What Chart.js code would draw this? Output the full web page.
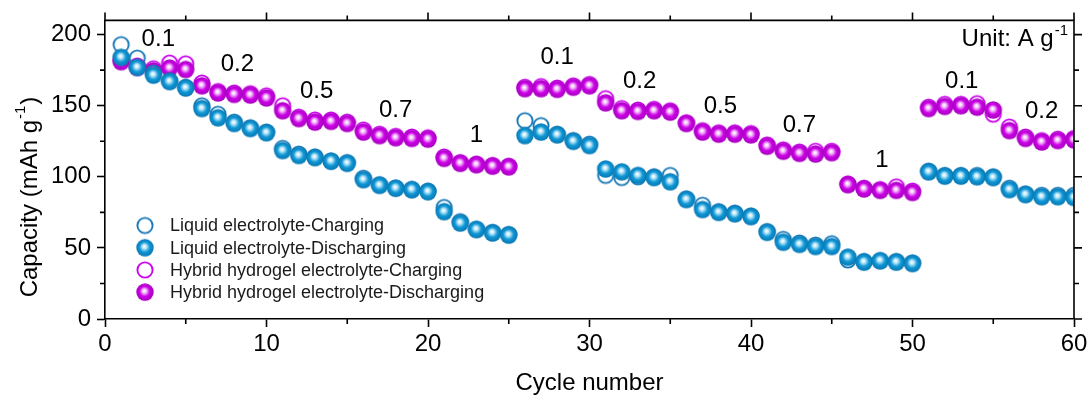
<!DOCTYPE html>
<html>
<head>
<meta charset="utf-8">
<script src="https://cdn.jsdelivr.net/npm/chart.js@4.4.1/dist/chart.umd.min.js"></script>
<style>
  html, body { margin: 0; padding: 0; background: #fff; }
  canvas { display: block; }
</style>
</head>
<body>
<canvas id="rateChart" width="1091" height="398"></canvas>
<script>
const cycles = Array.from({ length: 60 }, (_, i) => i + 1);

const liquidCharge = [
  193, 183.5, 173, 167.5, 163, 150, 144, 138.5, 134.5, 131.5,
  120, 116, 114, 111, 110, 99, 94.5, 92, 91, 90,
  78.5, 68.5, 63, 61, 59.5, 139.5, 136, 130, 125.5, 123,
  101, 99.5, 100, 100, 101, 84.5, 80, 75.5, 74.5, 72.5,
  61.5, 56, 53.5, 52, 53, 41.5, 40.5, 41, 40.5, 39.5,
  104, 101, 101, 101, 100, 92, 88, 87, 87, 87
];
const liquidDischarge = [
  184, 177, 171.5, 167, 162.5, 148, 141.5, 137.5, 134, 131,
  118.5, 115, 113.5, 111, 109.5, 98, 94, 92, 91, 89.5,
  75.5, 67.5, 63, 60.5, 59, 129, 131.5, 129.5, 125, 122,
  105.5, 103.5, 101, 99.5, 96.5, 84, 77, 75, 74, 72,
  61, 54, 52.5, 51, 51, 43.5, 40, 41, 40, 39,
  103.5, 100.5, 100.5, 100, 99.5, 91, 87.5, 86, 86, 85.5
];
const hybridCharge = [
  182, 178, 176, 180, 179.5, 166, 160, 159, 158.5, 157,
  150, 142, 140, 140, 138.5, 133, 130, 128.5, 128, 127.5,
  114, 110, 109, 108, 107.5, 163, 163.5, 162.5, 164, 165,
  155, 148, 147, 147.5, 146.5, 138, 132.5, 131, 131, 130.5,
  122.5, 119, 117.5, 118, 118, 95, 92, 91, 93, 90,
  149, 151, 151, 151.5, 144, 135, 128, 125.5, 126.5, 127
];
const hybridDischarge = [
  181, 177, 174.5, 176.5, 175.5, 164, 159, 158, 157.5, 155.5,
  146.5, 141, 138.5, 139, 137.5, 131.5, 129, 127.5, 127, 126.5,
  113, 109.5, 108.5, 107.5, 107, 162, 162, 161.5, 163, 164,
  152, 146.5, 146, 146.5, 145.5, 137.5, 131.5, 130, 130, 129.5,
  121.5, 118, 116.5, 116, 117, 94.5, 91.5, 90.5, 90.5, 89,
  148, 149.5, 150, 149, 147, 132.5, 127, 124.5, 125.5, 126
];

// current density notes, anchored at (cycle, capacity)
const rateText = ['0.1', '0.2', '0.5', '0.7', '1', '0.1', '0.2', '0.5', '0.7', '1', '0.1', '0.2'];
const rateCycle = [3.3, 8.2, 13.1, 18.0, 23.0, 28.0, 33.1, 38.1, 43.0, 48.1, 53.05, 58.0];
const rateCap = [197, 179, 160.3, 147, 129.3, 184, 167.2, 149.3, 136.2, 111.8, 167.2, 146.3];

const seriesNames = [
  'Liquid electrolyte-Charging',
  'Liquid electrolyte-Discharging',
  'Hybrid hydrogel electrolyte-Charging',
  'Hybrid hydrogel electrolyte-Discharging'
];

const FONT = '"Liberation Sans", Arial, sans-serif';
Chart.defaults.font.family = FONT;
Chart.defaults.color = '#000';

// shaded sphere marker
function ball(light, base, dark) {
  const c = document.createElement('canvas');
  c.width = c.height = 20;
  const g = c.getContext('2d');
  const grad = g.createRadialGradient(9.3, 8.6, 0.3, 10, 10, 9);
  grad.addColorStop(0, '#ffffff');
  grad.addColorStop(0.2, light);
  grad.addColorStop(0.55, base);
  grad.addColorStop(1, dark);
  g.fillStyle = grad;
  g.beginPath();
  g.arc(10, 10, 8.7, 0, Math.PI * 2);
  g.fill();
  return c;
}

// open circle marker
function ring(color) {
  const c = document.createElement('canvas');
  c.width = c.height = 20;
  const g = c.getContext('2d');
  g.strokeStyle = color;
  g.lineWidth = 1.9;
  g.beginPath();
  g.arc(10, 10, 7.6, 0, Math.PI * 2);
  g.stroke();
  return c;
}

const markers = [
  ring('#1677b6'),
  ball('#bfe8fa', '#0f98d6', '#0875b0'),
  ring('#cc00ee'),
  ball('#f2c2fa', '#cc00e6', '#a300bb')
];

const toPoints = vals => cycles.map((c, i) => ({ x: c, y: vals[i] }));
const seriesData = [liquidCharge, liquidDischarge, hybridCharge, hybridDischarge];
// filled markers sit on top of the open ones, liquid on top of hybrid
const drawOrder = [1, 0, 3, 2];

const decor = {
  id: 'decor',
  afterDraw(chart) {
    const { ctx, chartArea: a, scales: { x, y } } = chart;
    ctx.save();
    ctx.strokeStyle = '#000';
    ctx.lineWidth = 1.6;

    // top and right frame
    ctx.beginPath();
    ctx.moveTo(a.left, a.top);
    ctx.lineTo(a.right, a.top);
    ctx.lineTo(a.right, a.bottom);
    ctx.stroke();

    // minor ticks bottom/left, mirrored ticks top/right
    ctx.beginPath();
    for (let v = 0; v <= 60; v += 5) {
      const px = x.getPixelForValue(v);
      const len = v % 10 === 0 ? 8 : 5;
      if (v % 10 !== 0) {
        ctx.moveTo(px, a.bottom);
        ctx.lineTo(px, a.bottom + len);
      }
      ctx.moveTo(px, a.top);
      ctx.lineTo(px, a.top - len);
    }
    for (let v = 0; v <= 200; v += 25) {
      const py = y.getPixelForValue(v);
      const len = v % 50 === 0 ? 8 : 5;
      if (v % 50 !== 0) {
        ctx.moveTo(a.left, py);
        ctx.lineTo(a.left - len, py);
      }
      ctx.moveTo(a.right, py);
      ctx.lineTo(a.right + len, py);
    }
    ctx.stroke();

    // current density notes
    ctx.fillStyle = '#000';
    ctx.font = '24px ' + FONT;
    ctx.textAlign = 'center';
    ctx.textBaseline = 'middle';
    rateText.forEach((t, i) => {
      ctx.fillText(t, x.getPixelForValue(rateCycle[i]), y.getPixelForValue(rateCap[i]));
    });

    // unit note, top right
    ctx.textAlign = 'left';
    ctx.textBaseline = 'alphabetic';
    ctx.font = '24px ' + FONT;
    const unit = 'Unit: A g';
    ctx.font = '15px ' + FONT;
    const supW = ctx.measureText('-1').width;
    ctx.font = '24px ' + FONT;
    const unitW = ctx.measureText(unit).width;
    const ux = a.right - 7 - supW - unitW;
    ctx.fillText(unit, ux, 46);
    ctx.font = '15px ' + FONT;
    ctx.fillText('-1', ux + unitW + 1, 35);

    // legend
    ctx.font = '18px ' + FONT;
    ctx.textBaseline = 'middle';
    ctx.fillStyle = '#1a1a1a';
    seriesNames.forEach((name, i) => {
      const ly = 225.5 + i * 22.2;
      ctx.drawImage(markers[i], 145 - 10, ly - 10);
      ctx.fillText(name, 170, ly + 1);
    });

    // y axis title with superscript
    ctx.fillStyle = '#000';
    ctx.translate(30, 198);
    ctx.rotate(-Math.PI / 2);
    ctx.font = '24px ' + FONT;
    const main = 'Capacity (mAh g';
    const mW = ctx.measureText(main).width;
    ctx.font = '15px ' + FONT;
    const sW = ctx.measureText('-1').width;
    ctx.font = '24px ' + FONT;
    const cW = ctx.measureText(')').width;
    const start = -(mW + sW + cW) / 2;
    ctx.textBaseline = 'middle';
    ctx.fillText(main, start, 0);
    ctx.font = '15px ' + FONT;
    ctx.fillText('-1', start + mW + 1, -9);
    ctx.font = '24px ' + FONT;
    ctx.fillText(')', start + mW + sW + 2, 0);
    ctx.restore();
  }
};

new Chart(document.getElementById('rateChart'), {
  type: 'scatter',
  data: {
    datasets: seriesData.map((vals, i) => ({
      label: seriesNames[i],
      data: toPoints(vals),
      pointStyle: markers[i],
      pointRadius: 8,
      order: drawOrder[i]
    }))
  },
  options: {
    responsive: false,
    animation: false,
    devicePixelRatio: 1,
    layout: { padding: { top: 14, right: 17, left: 0, bottom: 0 } },
    plugins: {
      legend: { display: false },
      tooltip: { enabled: false }
    },
    scales: {
      x: {
        type: 'linear',
        min: 0,
        max: 60,
        afterFit: s => { s.height = 79; },
        ticks: { stepSize: 10, padding: 3, font: { size: 24 }, color: '#000', maxRotation: 0 },
        grid: { drawOnChartArea: false, tickLength: 8, tickWidth: 1.6, tickColor: '#000' },
        border: { color: '#000', width: 1.6 },
        title: { display: true, text: 'Cycle number', font: { size: 24 }, color: '#000', padding: 0 }
      },
      y: {
        min: 0,
        max: 210,
        afterFit: s => { s.width = 105; },
        ticks: { stepSize: 50, includeBounds: false, padding: 6, font: { size: 24 }, color: '#000' },
        grid: { drawOnChartArea: false, tickLength: 8, tickWidth: 1.6, tickColor: '#000' },
        border: { color: '#000', width: 1.6 }
      }
    }
  },
  plugins: [decor]
});
</script>
</body>
</html>
